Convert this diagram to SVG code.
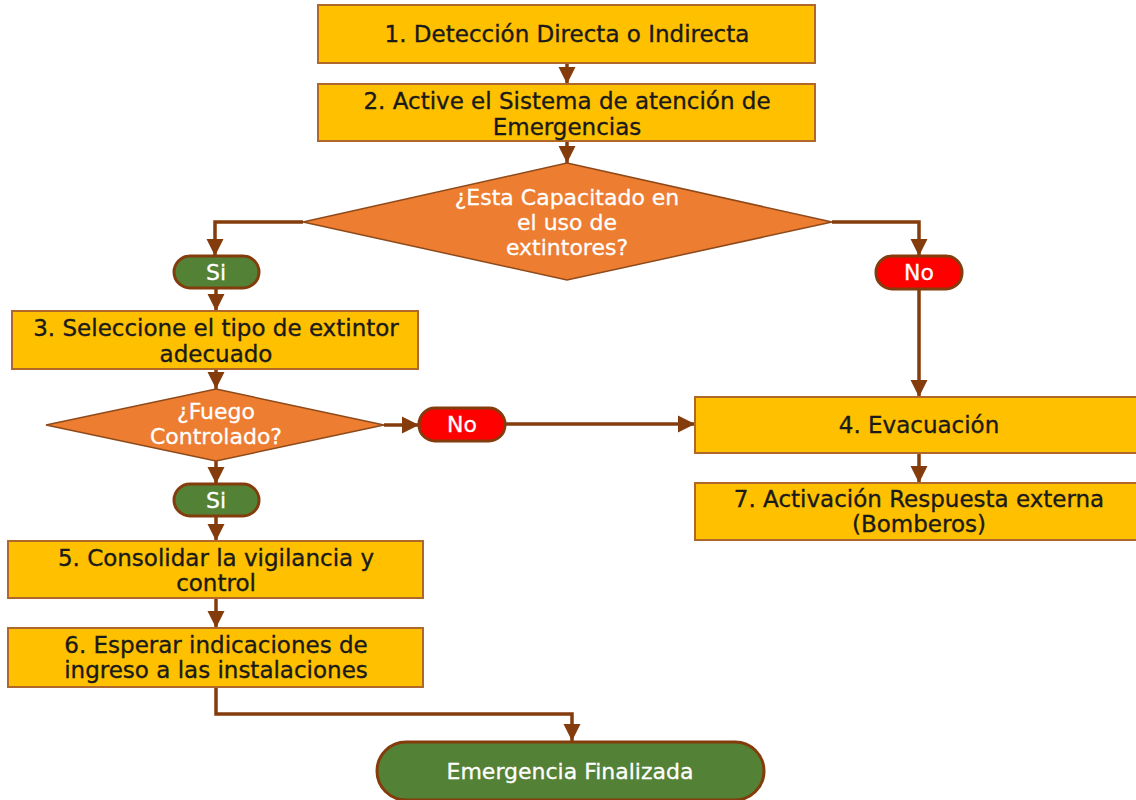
<svg xmlns="http://www.w3.org/2000/svg" width="1136" height="800" viewBox="0 0 1136 800">
<style>
.box{fill:#FFC000;stroke:#B0672A;stroke-width:2}
.dia{fill:#ED7D31;stroke:#8E4A1A;stroke-width:1.5}
.yes{fill:#538135;stroke:#843C0C;stroke-width:3}
.no{fill:#FF0000;stroke:#843C0C;stroke-width:3}
.term{fill:#538135;stroke:#843C0C;stroke-width:3}
.t{font-family:"DejaVu Sans","Liberation Sans",sans-serif;font-size:23px;fill:#1a1a1a;stroke:#1a1a1a;stroke-width:0.35;text-anchor:middle}
.w{font-family:"DejaVu Sans","Liberation Sans",sans-serif;font-size:22px;fill:#ffffff;stroke:#ffffff;stroke-width:0.3;text-anchor:middle}
.c{fill:none;stroke:#843C0C;stroke-width:3.5}
</style>
<defs>
<marker id="ah" viewBox="0 0 10 10" refX="10" refY="5" markerWidth="5" markerHeight="5" markerUnits="strokeWidth" orient="auto">
<path d="M0,0 L10,5 L0,10 z" fill="#843C0C"/>
</marker>
</defs>
<rect width="1136" height="800" fill="#ffffff"/>
<g id="connectors">
<path class="c" d="M567,63 V84" marker-end="url(#ah)"/>
<path class="c" d="M567,141 V163" marker-end="url(#ah)"/>
<path class="c" d="M303,222 H215 V256" marker-end="url(#ah)"/>
<path class="c" d="M832,222 H919 V256" marker-end="url(#ah)"/>
<path class="c" d="M216,288 V311" marker-end="url(#ah)"/>
<path class="c" d="M216,369 V389" marker-end="url(#ah)"/>
<path class="c" d="M384,425 H419" marker-end="url(#ah)"/>
<path class="c" d="M505,424 H695" marker-end="url(#ah)"/>
<path class="c" d="M919,289 V397" marker-end="url(#ah)"/>
<path class="c" d="M919,453 V483" marker-end="url(#ah)"/>
<path class="c" d="M216,461 V484" marker-end="url(#ah)"/>
<path class="c" d="M216,516 V541" marker-end="url(#ah)"/>
<path class="c" d="M216,598 V628" marker-end="url(#ah)"/>
<path class="c" d="M216,687 V714 H572 V741" marker-end="url(#ah)"/>
</g>
<g id="n1">
<rect class="box" x="318" y="5" width="497" height="58"/>
<text class="t" x="567" y="42">1. Detección Directa o Indirecta</text>
</g>
<g id="n2">
<rect class="box" x="318" y="84" width="497" height="57"/>
<text class="t" x="567" y="109">2. Active el Sistema de atención de</text>
<text class="t" x="567" y="135">Emergencias</text>
</g>
<g id="d1">
<polygon class="dia" points="567,163 832,222 567,280 303,222"/>
<text class="w" x="567" y="205">¿Esta Capacitado en</text>
<text class="w" x="567" y="230">el uso de</text>
<text class="w" x="567" y="255">extintores?</text>
</g>
<g id="si1">
<rect class="yes" x="174" y="256" width="85" height="32" rx="16"/>
<text class="w" x="216" y="280">Si</text>
</g>
<g id="no1">
<rect class="no" x="876" y="256" width="86" height="33" rx="16"/>
<text class="w" x="919" y="280">No</text>
</g>
<g id="n3">
<rect class="box" x="12" y="311" width="406" height="58"/>
<text class="t" x="216" y="336">3. Seleccione el tipo de extintor</text>
<text class="t" x="216" y="362">adecuado</text>
</g>
<g id="d2">
<polygon class="dia" points="216,389 384,425 216,461 46,425"/>
<text class="w" x="216" y="419">¿Fuego</text>
<text class="w" x="216" y="444">Controlado?</text>
</g>
<g id="no2">
<rect class="no" x="419" y="408" width="86" height="33" rx="16"/>
<text class="w" x="462" y="432">No</text>
</g>
<g id="n4">
<rect class="box" x="695" y="397" width="445" height="56"/>
<text class="t" x="919" y="433">4. Evacuación</text>
</g>
<g id="n7">
<rect class="box" x="695" y="483" width="445" height="57"/>
<text class="t" x="919" y="507">7. Activación Respuesta externa</text>
<text class="t" x="919" y="532">(Bomberos)</text>
</g>
<g id="si2">
<rect class="yes" x="174" y="484" width="85" height="32" rx="16"/>
<text class="w" x="216" y="508">Si</text>
</g>
<g id="n5">
<rect class="box" x="8" y="541" width="415" height="57"/>
<text class="t" x="216" y="566">5. Consolidar la vigilancia y</text>
<text class="t" x="216" y="591">control</text>
</g>
<g id="n6">
<rect class="box" x="8" y="628" width="415" height="59"/>
<text class="t" x="216" y="653">6. Esperar indicaciones de</text>
<text class="t" x="216" y="678">ingreso a las instalaciones</text>
</g>
<g id="end">
<rect class="term" x="377" y="742" width="387" height="58" rx="29"/>
<text class="w" x="570" y="779">Emergencia Finalizada</text>
</g>
</svg>
